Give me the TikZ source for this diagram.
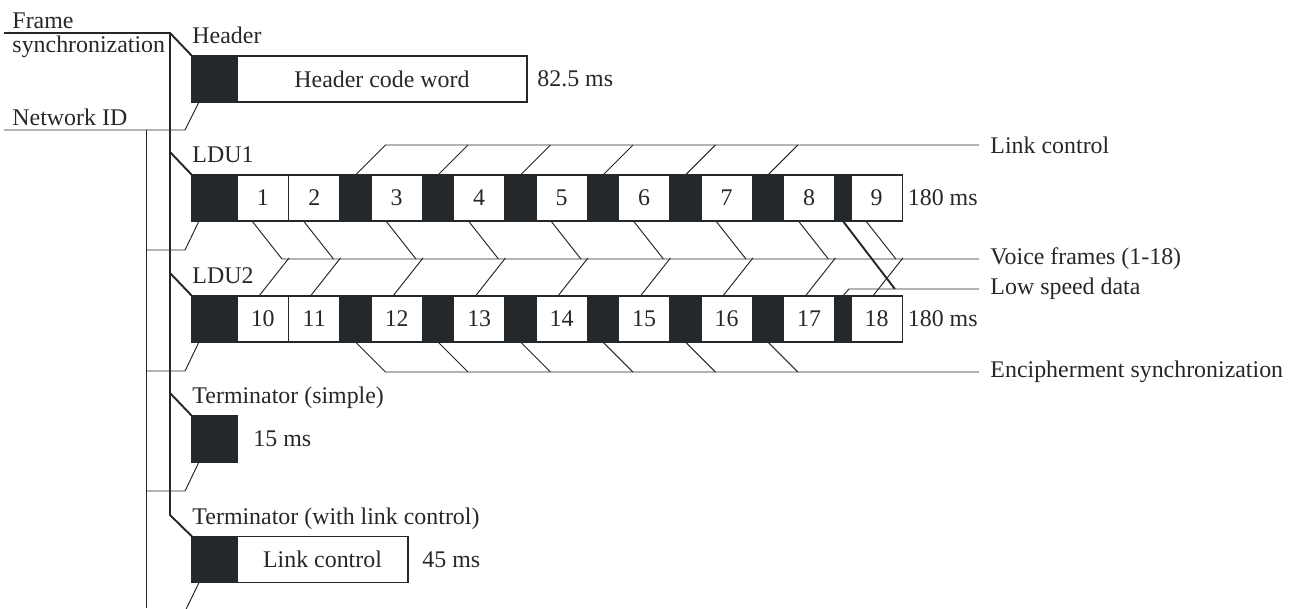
\documentclass[tikz,border=0pt]{standalone}
\usepackage{fontspec}
\setmainfont{Liberation Serif}
\usepackage{xcolor}
\usepackage{tikz}
\usetikzlibrary{positioning}

\definecolor{ink}{RGB}{36,40,43}

\begin{document}
\begin{tikzpicture}[x=0.02cm, y=-0.02cm, color=ink, line width=0.55pt,
    every node/.style={font=\fontsize{13.6}{14.2}\selectfont},
    blk/.style={fill=ink, draw=ink, line width=0.75pt, minimum width=0.62cm, minimum height=0.92cm, inner sep=0pt, outer sep=0pt},
    vf/.style={draw, line width=0.75pt, minimum width=1.03cm, minimum height=0.92cm, inner sep=0pt, outer sep=0pt},
    lbl/.style={anchor=base west, inner sep=0pt},
    tag/.style={anchor=west, inner xsep=0.22cm, inner ysep=0pt},
    ms/.style={inner sep=0pt},
    bus/.style={line width=1.1pt}]
\useasboundingbox (0,0) rectangle (1300,608);

% header
\node[blk, minimum width=0.9cm] (s0) at (214.5,79) {};
\node[vf, minimum width=5.8cm] (hcw) [right=0pt of s0] {Header code word};
\node[ms] (d0) [right=0.2cm of hcw] {82.5 ms};
\node[lbl] (hl) at ([yshift=0.25cm]s0.north west) {Header};

% LDU1
\node[blk, minimum width=0.9cm] (s1) at (214.5,198) {};
\node[vf] (v1) [right=0pt of s1] {1};
\node[vf] (v2) [right=0pt of v1] {2};
\node[blk] (s1a) [right=0pt of v2] {};
\node[vf] (v3) [right=0pt of s1a] {3};
\node[blk] (s1b) [right=0pt of v3] {};
\node[vf] (v4) [right=0pt of s1b] {4};
\node[blk] (s1c) [right=0pt of v4] {};
\node[vf] (v5) [right=0pt of s1c] {5};
\node[blk] (s1d) [right=0pt of v5] {};
\node[vf] (v6) [right=0pt of s1d] {6};
\node[blk] (s1e) [right=0pt of v6] {};
\node[vf] (v7) [right=0pt of s1e] {7};
\node[blk] (s1f) [right=0pt of v7] {};
\node[vf] (v8) [right=0pt of s1f] {8};
\node[blk, minimum width=0.32cm] (n1) [right=0pt of v8] {};
\node[vf] (v9) [right=0pt of n1] {9};
\node[ms] (d1) [right=0.1cm of v9] {180 ms};
\node[lbl] (l1) at ([yshift=0.25cm]s1.north west) {LDU1};

% LDU2
\node[blk, minimum width=0.9cm] (s2) at (214.5,319) {};
\node[vf] (v10) [right=0pt of s2] {10};
\node[vf] (v11) [right=0pt of v10] {11};
\node[blk] (s2a) [right=0pt of v11] {};
\node[vf] (v12) [right=0pt of s2a] {12};
\node[blk] (s2b) [right=0pt of v12] {};
\node[vf] (v13) [right=0pt of s2b] {13};
\node[blk] (s2c) [right=0pt of v13] {};
\node[vf] (v14) [right=0pt of s2c] {14};
\node[blk] (s2d) [right=0pt of v14] {};
\node[vf] (v15) [right=0pt of s2d] {15};
\node[blk] (s2e) [right=0pt of v15] {};
\node[vf] (v16) [right=0pt of s2e] {16};
\node[blk] (s2f) [right=0pt of v16] {};
\node[vf] (v17) [right=0pt of s2f] {17};
\node[blk, minimum width=0.32cm] (n2) [right=0pt of v17] {};
\node[vf] (v18) [right=0pt of n2] {18};
\node[ms] (d2) [right=0.1cm of v18] {180 ms};
\node[lbl] (l2) at ([yshift=0.25cm]s2.north west) {LDU2};

% terminators
\node[blk, minimum width=0.9cm] (st) at (214.5,439) {};
\node[ms] (d3) [right=0.32cm of st] {15 ms};
\node[lbl] (tl1) at ([yshift=0.25cm]st.north west) {Terminator (simple)};
\node[blk, minimum width=0.9cm] (sl) at (214.5,559.5) {};
\node[vf, minimum width=3.42cm] (lcw) [right=0pt of sl] {Link control};
\node[ms] (d4) [right=0.28cm of lcw] {45 ms};
\node[lbl] (tl2) at ([yshift=0.25cm]sl.north west) {Terminator (with link control)};

% left side
\node[lbl, align=left] (fsl) at (12,53) {Frame\\synchronization};
\node[lbl] (nil) at (12,125) {Network ID};
\coordinate (fsA) at (4,33);
\coordinate (fsB) at (170,33);
\coordinate (fsC) at (170,515);
\coordinate (niA) at (4,130);
\coordinate (niB) at (146,130);
\coordinate (niC) at (146,608);

\draw[bus] (fsA) -- (fsB) -- (s0.north west);
\draw[bus] (fsB) -- (fsC) -- (sl.north west);
\draw[bus] (s1.north west) -- ++(-22,-23);
\draw[bus] (s2.north west) -- ++(-22,-23);
\draw[bus] (st.north west) -- ++(-22,-23);

\draw (niB) -- (niC);
\draw ([xshift=0.14cm]s0.south west) -- ++(-14,28) -- (niA);
\draw ([xshift=0.14cm]s1.south west) -- ++(-14,29) coordinate (k1) -- (k1 -| niB);
\draw ([xshift=0.14cm]s2.south west) -- ++(-14,29) coordinate (k2) -- (k2 -| niB);
\draw ([xshift=0.14cm]st.south west) -- ++(-14,29) coordinate (k3) -- (k3 -| niB);
\draw ([xshift=0.14cm]sl.south west) -- ++(-14,29);

% right side
\node[tag] (lc) at (979,145) {Link control};
\node[tag] (vfr) at (979,259) {Voice frames (1-18)};
\node[tag] (lsd) at (979,289) {Low speed data};
\node[tag] (enc) at (979,372) {Encipherment synchronization};

\draw (s1a.north) -- ++(30,-30) -- (lc.west);
\draw (s1b.north) -- ++(30,-30) (s1c.north) -- ++(30,-30)
      (s1d.north) -- ++(30,-30) (s1e.north) -- ++(30,-30)
      (s1f.north) -- ++(30,-30);

\draw ([xshift=0.3cm]v1.south west) -- ++(30,38) -- (vfr.west);
\draw ([xshift=0.3cm]v2.south west) -- ++(30,38) ([xshift=0.3cm]v3.south west) -- ++(30,38)
      ([xshift=0.3cm]v4.south west) -- ++(30,38) ([xshift=0.3cm]v5.south west) -- ++(30,38)
      ([xshift=0.3cm]v6.south west) -- ++(30,38) ([xshift=0.3cm]v7.south west) -- ++(30,38)
      ([xshift=0.3cm]v8.south west) -- ++(30,38) ([xshift=0.3cm]v9.south west) -- ++(30,38);
\draw ([xshift=0.44cm]v10.north west) -- ++(30,-38) ([xshift=0.44cm]v11.north west) -- ++(30,-38)
      ([xshift=0.44cm]v12.north west) -- ++(30,-38) ([xshift=0.44cm]v13.north west) -- ++(30,-38)
      ([xshift=0.44cm]v14.north west) -- ++(30,-38) ([xshift=0.44cm]v15.north west) -- ++(30,-38)
      ([xshift=0.44cm]v16.north west) -- ++(30,-38) ([xshift=0.44cm]v17.north west) -- ++(30,-38)
      ([xshift=0.44cm]v18.north west) -- ++(30,-38);

\draw[bus] (n1.south) -- ++(52,68);
\draw (n2.north) -- ++(6,-7) -- (lsd.west);

\draw (s2a.south) -- ++(30,30) -- (enc.west);
\draw (s2b.south) -- ++(30,30) (s2c.south) -- ++(30,30)
      (s2d.south) -- ++(30,30) (s2e.south) -- ++(30,30)
      (s2f.south) -- ++(30,30);
\end{tikzpicture}
\end{document}
